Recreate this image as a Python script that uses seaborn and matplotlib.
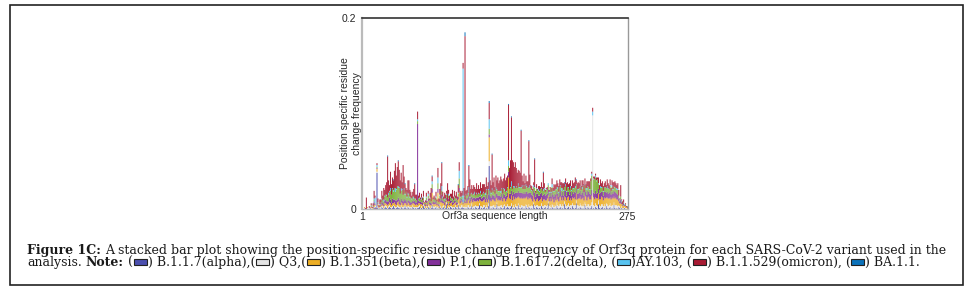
import numpy as np
import pandas as pd
import matplotlib
matplotlib.use("Agg")
import matplotlib.pyplot as plt
from matplotlib.patches import Rectangle
import seaborn as sns

# Position specific residue change frequency per variant, Orf3a positions 1..275
# (values in units of 1e-3)
alpha = [
    0,0,0,0,0,0,0,0,1,0,0,0,1,2,0,38,1,0,1,0,2,1,0,1,2,
    1,0,1,2,1,0,1,3,1,0,1,2,1,1,0,2,1,0,1,3,1,0,2,1,0,
    1,0,2,1,0,1,0,1,1,2,0,1,0,3,1,0,1,0,2,1,0,1,4,1,0,
    1,2,0,1,0,3,1,0,1,2,0,1,5,0,1,0,2,1,0,1,0,2,1,0,4,
    1,0,1,2,1,1,0,1,0,2,1,0,1,3,0,1,0,2,1,0,1,4,0,1,0,
    1,2,0,1,0,3,45,0,1,0,2,1,0,1,5,0,1,0,2,1,0,1,3,0,1,
    2,1,0,1,3,0,1,0,2,1,0,4,1,0,1,2,0,1,0,3,1,0,2,1,0,
    1,0,5,1,0,2,1,0,1,0,3,1,0,1,2,0,1,6,0,1,0,2,1,0,1,
    0,3,1,0,1,2,0,1,0,5,1,0,1,2,0,1,0,3,1,0,1,6,0,1,0,
    2,1,0,1,0,4,1,0,2,1,0,1,3,0,1,0,2,1,0,5,1,0,1,2,0,
    1,0,3,1,0,1,2,0,1,0,4,1,0,1,0,2,1,0,1,0,0,1,0,0,0,
]
q3 = [
    0,0,1,0,0,1,0,1,0,1,1,0,1,1,0,1,2,1,1,2,1,2,1,2,2,
    2,1,2,2,1,2,2,1,2,2,1,2,2,1,2,2,1,2,2,1,2,2,1,2,2,
    1,2,2,1,2,1,2,1,2,2,1,2,1,2,2,1,2,1,2,2,1,2,1,2,2,
    2,1,2,2,1,2,2,1,2,2,1,2,2,1,2,2,1,2,2,1,2,2,1,2,2,
    2,2,3,2,1,2,2,3,2,2,3,2,2,3,2,2,3,2,2,3,2,2,3,2,2,
    3,2,2,3,2,3,5,3,2,3,2,3,2,3,2,3,2,3,2,3,2,3,2,3,2,
    3,2,3,2,3,2,3,2,3,2,3,2,3,2,3,2,3,2,3,2,3,2,3,2,3,
    3,3,2,3,3,2,3,3,2,3,3,2,3,3,2,3,3,2,3,3,2,3,3,2,3,
    3,4,3,3,4,3,3,4,3,3,4,3,3,4,3,3,4,3,3,4,3,3,4,3,3,
    4,3,3,4,3,3,4,3,3,4,3,3,4,98,3,3,4,3,3,4,3,3,4,3,3,
    4,3,3,4,3,3,4,3,3,4,3,3,4,3,3,2,2,1,2,1,1,1,1,1,0,
]
beta = [
    0,0,1,0,0,1,0,0,1,1,0,1,2,1,0,3,2,1,0,1,2,1,2,3,2,
    2,3,2,3,4,2,3,2,4,3,2,3,5,3,2,3,4,2,3,2,3,2,4,3,2,
    2,3,2,4,3,2,3,2,3,2,4,2,3,2,1,2,3,2,4,2,3,1,12,2,3,
    2,3,2,14,2,3,4,6,3,2,3,4,2,3,5,2,3,4,2,3,4,3,2,3,4,
    15,4,5,3,3,4,4,5,4,5,6,4,5,4,5,6,5,4,5,6,5,4,6,5,6,
    5,6,5,6,5,4,25,6,5,7,6,5,6,7,5,6,7,6,5,7,6,7,6,5,7,
    7,30,8,7,8,7,9,8,7,8,9,7,8,9,8,7,8,9,8,7,9,8,7,8,9,
    6,5,7,6,5,6,7,5,6,7,6,5,7,6,5,6,7,6,5,7,6,7,6,5,7,
    6,7,6,5,7,8,6,7,6,5,7,6,8,7,6,7,5,6,7,8,6,7,6,7,8,
    7,6,8,7,6,7,8,6,7,8,7,6,7,0,8,7,6,7,8,7,6,7,8,7,6,
    7,8,6,7,8,7,6,7,8,7,6,7,8,6,7,4,3,5,2,2,3,1,2,1,1,
]
p1 = [
    0,0,0,0,0,0,0,1,0,1,0,1,4,1,0,1,1,0,1,2,2,3,2,3,4,
    3,4,3,5,4,3,5,4,3,4,5,3,4,5,3,4,3,4,5,3,4,3,2,3,4,
    3,2,3,2,4,3,2,85,3,2,3,2,3,2,1,2,3,2,3,2,3,2,4,3,2,
    2,3,2,4,2,3,2,8,3,2,3,2,3,2,3,2,3,2,3,2,3,2,3,2,3,
    4,3,2,3,1,3,2,3,4,3,4,3,4,3,4,3,4,3,4,3,4,3,4,3,4,
    4,3,4,5,4,5,3,5,4,5,4,5,4,5,4,5,4,5,4,5,4,5,4,5,4,
    5,6,5,6,5,6,5,6,5,6,5,6,5,6,5,6,5,6,5,6,5,6,5,6,5,
    5,6,5,7,5,6,5,6,5,6,5,6,5,6,5,6,5,6,5,6,5,6,5,6,5,
    6,5,6,5,6,7,5,6,5,6,7,5,6,5,6,7,5,6,5,6,7,5,6,5,6,
    6,5,6,7,5,6,5,6,7,5,6,5,6,0,5,6,7,5,6,5,6,7,5,6,5,
    6,7,5,6,5,6,7,5,6,5,6,7,5,6,5,3,2,4,2,1,2,1,1,0,1,
]
delta = [
    0,0,0,0,0,0,0,0,0,1,0,1,2,1,0,1,1,0,1,2,3,2,3,4,5,
    6,4,7,6,9,8,10,8,12,9,11,14,10,12,9,8,11,7,9,6,8,5,6,7,4,
    5,3,4,3,2,3,2,3,2,3,2,3,2,3,1,2,3,2,3,2,4,2,5,2,3,
    2,3,2,6,2,3,2,4,3,2,3,2,3,2,3,2,3,2,3,2,3,2,3,2,3,
    10,3,2,3,1,3,2,3,4,3,4,3,4,3,4,3,4,3,4,3,4,3,4,3,4,
    4,3,4,5,4,5,6,5,4,5,4,5,4,5,4,5,4,5,4,5,4,5,4,5,4,
    5,6,5,6,5,6,5,6,5,6,5,6,5,6,5,6,5,6,5,6,5,6,5,6,5,
    4,5,4,5,4,5,4,5,4,5,4,5,4,5,4,5,4,5,4,5,4,5,4,5,4,
    5,4,5,4,5,4,5,4,5,4,5,4,5,4,5,4,5,4,5,4,5,4,5,4,5,
    4,5,4,5,4,5,4,5,4,5,4,14,15,0,14,15,14,13,14,5,4,5,4,5,4,
    5,4,5,4,5,4,5,4,5,4,5,4,5,4,5,3,1,3,1,1,1,0,1,0,1,
]
ay103 = [
    0,0,0,0,0,0,0,0,0,0,0,0,1,6,0,2,0,0,1,0,1,0,2,1,0,
    1,0,2,1,3,0,1,2,0,4,1,0,2,1,0,3,1,0,2,1,0,1,2,0,1,
    0,1,0,2,0,1,0,2,0,1,0,2,0,1,0,0,1,0,2,0,1,0,3,0,1,
    0,1,0,6,0,1,0,5,1,0,1,0,1,0,2,0,1,0,1,0,1,0,1,0,1,
    8,1,0,1,140,1,0,1,0,2,5,1,0,1,0,1,2,0,1,0,1,0,2,1,0,
    1,0,2,1,0,1,10,0,1,2,0,1,0,2,1,0,1,0,2,1,0,1,2,0,1,
    1,6,0,1,5,0,1,2,0,1,0,2,1,0,1,2,0,1,0,2,1,0,1,2,0,
    1,0,2,1,0,1,0,2,1,0,1,0,2,1,0,1,0,2,1,0,1,3,0,1,0,
    1,0,2,1,0,1,3,0,1,0,2,1,0,1,0,2,1,0,1,0,2,1,0,1,0,
    1,0,2,1,0,1,0,2,1,0,1,0,2,4,1,0,2,1,0,1,0,2,1,0,1,
    0,1,0,2,1,0,1,0,2,1,0,1,0,2,1,0,1,0,1,0,0,1,0,0,0,
]
omicron = [
    0,0,0,1,12,0,0,1,0,2,1,3,8,2,1,2,4,2,5,3,8,5,12,6,10,
    13,43,13,6,17,11,11,10,18,26,14,20,26,18,14,16,7,31,12,10,4,7,13,14,7,
    6,3,5,8,15,4,6,8,3,5,2,4,3,6,1,2,4,1,3,2,5,14,5,2,3,
    3,5,2,10,4,6,16,24,5,3,6,4,3,19,4,6,3,5,9,4,6,3,7,4,8,
    9,6,4,5,6,8,171,3,6,7,22,18,5,8,6,9,5,7,10,6,8,5,9,7,10,
    8,10,6,12,9,7,17,11,8,35,10,13,7,12,9,14,8,11,15,9,13,10,16,12,14,
    12,58,22,28,67,30,25,20,27,19,16,14,17,15,59,10,8,12,6,9,5,7,48,11,3,
    4,2,3,29,2,4,1,3,5,2,6,4,17,5,2,1,3,0,2,1,4,6,3,7,5,
    5,7,4,6,8,3,6,5,7,4,6,8,5,3,7,6,4,8,5,6,9,4,6,7,5,
    6,4,7,5,8,6,4,7,5,6,8,3,2,4,2,3,2,3,2,6,5,7,4,6,5,
    4,6,3,7,5,4,6,3,5,7,4,6,5,3,6,6,1,12,1,3,3,0,1,1,0,
]
ba11 = [
    0,0,0,0,0,0,0,0,0,0,0,0,0,0,0,0,0,0,0,0,0,0,0,0,0,
    0,1,0,0,0,0,0,1,0,0,0,0,1,0,0,0,0,0,0,1,0,0,0,0,0,
    0,0,0,0,1,0,0,0,0,0,0,0,0,0,0,0,0,0,0,0,0,0,1,0,0,
    0,0,0,0,0,0,0,1,0,0,0,0,0,0,0,0,0,0,0,0,0,0,0,0,1,
    0,0,0,0,0,0,4,0,0,0,1,0,0,0,0,0,0,0,0,0,0,0,0,0,0,
    0,0,0,0,0,0,2,0,0,1,0,0,0,0,0,0,0,0,0,0,0,0,0,0,0,
    0,1,0,0,1,0,0,0,0,0,0,0,0,0,1,0,0,0,0,0,0,0,1,0,0,
    0,0,0,1,0,0,0,0,0,0,0,0,1,0,0,0,0,0,0,0,0,0,0,0,0,
    0,0,0,0,0,0,0,0,0,1,0,0,0,0,0,0,0,0,0,0,0,1,0,0,0,
    0,0,0,0,0,0,0,0,0,0,0,0,0,0,0,0,0,0,0,0,0,0,0,0,0,
    0,0,0,0,0,0,0,0,0,0,0,0,0,0,0,0,0,0,0,0,0,0,0,0,0,
]

variants = ["B.1.1.7(alpha)", "Q3", "B.1.351(beta)", "P.1", "B.1.617.2(delta)",
            "AY.103", "B.1.1.529(omicron)", "BA.1.1"]
colors = ["#4B4FAE", "#E4E4E4", "#EDAE25", "#83309A", "#7DB13C",
          "#58C3F0", "#A81B33", "#0B72BA"]

series = [alpha, q3, beta, p1, delta, ay103, omicron, ba11]
positions = np.arange(1, 276)
for s in series:
    assert len(s) == 275

df = pd.concat([
    pd.DataFrame({"position": positions, "variant": v, "freq": np.array(s) / 1000})
    for v, s in zip(variants, series)
], ignore_index=True)

sns.set_style("white")
plt.rcParams["font.family"] = ["Liberation Sans", "DejaVu Sans"]

W, H = 971, 293
fig = plt.figure(figsize=(W / 100, H / 100), dpi=100)
ax = fig.add_axes([362 / W, 1 - 209 / H, 266 / W, 191 / H])

# bars are thinner than a pixel, so no snapping (otherwise some vanish)
sns.histplot(data=df, x="position", weights="freq", hue="variant",
             hue_order=variants[::-1], palette=colors[::-1],
             multiple="stack", discrete=True, shrink=1, linewidth=0,
             alpha=1, legend=False, snap=False, ax=ax)

ax.set_xlim(0.5, 275.5)
ax.set_ylim(0, 0.2)
ax.set_xticks([1, 275])
ax.set_xticklabels(["1", "275"], fontsize=7.5)
ax.set_yticks([0, 0.2])
ax.set_yticklabels(["0", "0.2"], fontsize=7.5)
ax.tick_params(axis="x", length=0, pad=2)
ax.tick_params(axis="y", length=3, width=0.8, pad=1, color="#333333")
ax.set_xlabel("Orf3a sequence length", fontsize=7.5)
ax.xaxis.set_label_coords(0.5, -0.012)
ax.set_ylabel("Position specific residue\nchange frequency", fontsize=7.5,
              linespacing=1.25)
ax.yaxis.set_label_coords(0.0, 0.5)
ax.spines["top"].set_color("#333333")
ax.spines["top"].set_linewidth(1.2)
ax.spines["left"].set_color("#BBBBBB")
ax.spines["left"].set_linewidth(1.6)
ax.spines["right"].set_color("#999999")
ax.spines["right"].set_linewidth(1.0)
ax.spines["bottom"].set_color("#BBBBBB")
ax.spines["bottom"].set_linewidth(1.0)

# frame around figure + caption
fig.add_artist(Rectangle((10 / W, 1 - 285 / H), 953 / W, 280 / H,
                         transform=fig.transFigure, fill=False,
                         edgecolor="#222222", linewidth=1.2))

renderer = fig.canvas.get_renderer()
serif = "DejaVu Serif"
cap_color = "#1a1a1a"


def text_width(s, size, weight="normal"):
    t = fig.text(0, 0, s, fontsize=size, family=serif, weight=weight)
    w = t.get_window_extent(renderer).width
    t.remove()
    return w


line1_rest = ("A stacked bar plot showing the position-specific residue change "
              "frequency of Orf3q protein for each SARS-CoV-2 variant used in the")
base = 10
w1 = (text_width("Figure 1C:", base, "bold") + text_width(line1_rest, base)
      + text_width("a a", base) - text_width("aa", base))
fs = base * 920 / w1
space = text_width("a a", fs) - text_width("aa", fs)


def draw_line(runs, x, y):
    for kind, val in runs:
        if kind == "sp":
            x += space
        elif kind == "sw":
            x += 1
            fig.add_artist(Rectangle((x / W, (H - y + 1) / H), 13 / W, 6.5 / H,
                                     transform=fig.transFigure, facecolor=val,
                                     edgecolor="#222222", linewidth=0.8))
            x += 14
        else:
            weight = "bold" if kind == "b" else "normal"
            t = fig.text(x / W, 1 - y / H, val, fontsize=fs, family=serif,
                         weight=weight, color=cap_color, va="baseline")
            x += t.get_window_extent(renderer).width


draw_line([("b", "Figure 1C:"), ("sp", None), ("t", line1_rest)], 27, 254)

labels_line2 = [") B.1.1.7(alpha),(", ") Q3,(", ") B.1.351(beta),(", ") P.1,(",
                ") B.1.617.2(delta), (", ")AY.103, (", ") B.1.1.529(omicron), (",
                ") BA.1.1."]
runs2 = [("t", "analysis."), ("sp", None), ("b", "Note:"), ("sp", None), ("t", "(")]
for c, lab in zip(colors, labels_line2):
    runs2.append(("sw", c))
    runs2.append(("t", lab))
draw_line(runs2, 27, 266)

fig.savefig("out.png", dpi=100)
